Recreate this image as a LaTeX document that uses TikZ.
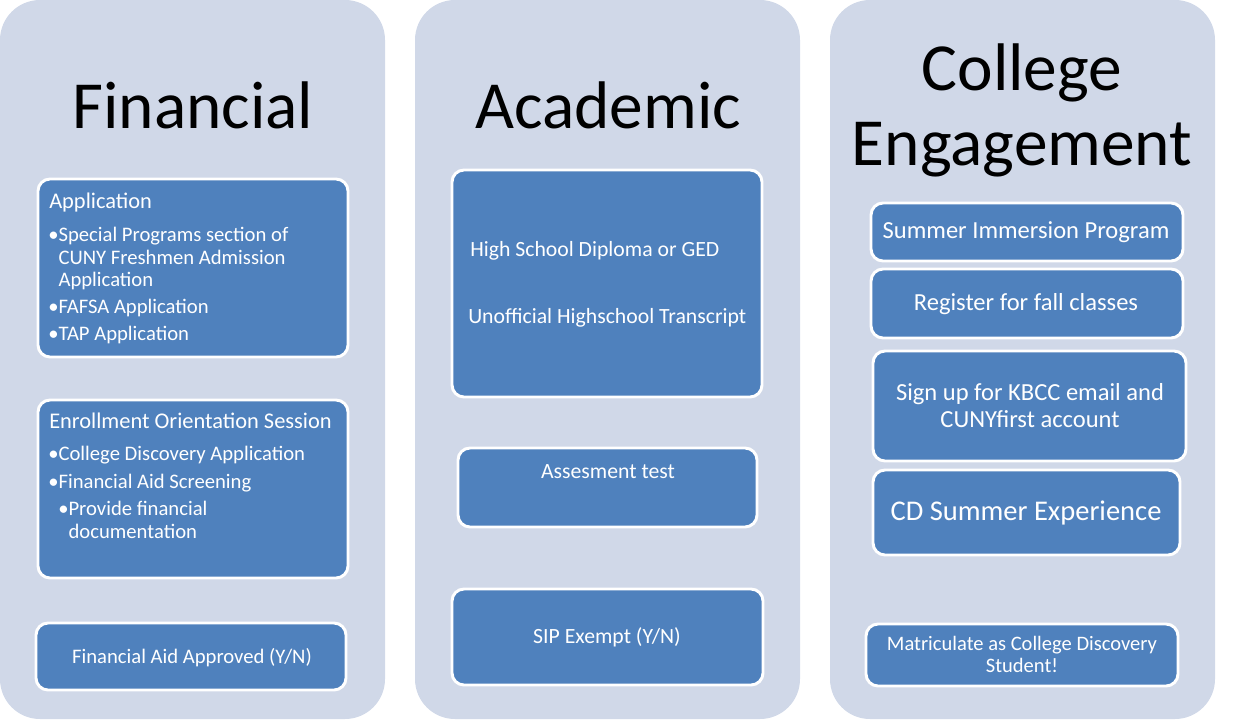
\documentclass[tikz,border=0pt]{standalone}
\usepackage{fontspec}
\setmainfont{Carlito}
\usetikzlibrary{fit}
\definecolor{colbg}{RGB}{208,216,232}
\definecolor{boxblue}{RGB}{79,129,189}

\begin{document}
\begin{tikzpicture}[x=0.75pt,y=-0.75pt,
  colbox/.style={fill=colbg,rounded corners=30pt,inner sep=0pt},
  bluebox/.style={fill=boxblue,draw=white,line width=2.2pt,rounded corners=9pt,inner sep=0pt},
  coltitle/.style={font=\fontsize{50.5}{56.25}\selectfont,anchor=base,align=center,inner sep=0pt},
  lbl/.style={text=white,inner sep=0pt,font=\fontsize{15.5}{16.9}\selectfont},
  head/.style={lbl,font=\fontsize{16.8}{19}\selectfont},
  mid/.style={lbl,font=\fontsize{16.3}{19}\selectfont},
  big/.style={lbl,font=\fontsize{18.4}{20.25}\selectfont}]
\useasboundingbox (0,0) rectangle (1235,721);
% column backgrounds
\node[colbox,fit={(0,0) (385,719)}] (fin) {};
\node[colbox,fit={(415,0) (800,719)}] (aca) {};
\node[colbox,fit={(830,0) (1215,719)}] (eng) {};
\node[coltitle] (finT) at (193,128) {Financial};
\node[coltitle] (acaT) at (608,128) {Academic};
\node[coltitle] (engT) at (1022,165) {College\\Engagement};

% Financial
\node[bluebox,fit={(38,179) (348,357)}] (app) {};
\node[head,anchor=base west] (appH) at (49,208) {Application};
\node[lbl,anchor=base west,align=left] (appL) at (48,340)
  {•Special Programs section of\\\phantom{•}CUNY Freshmen Admission\\\phantom{•}Application\\[3.1pt]
   •FAFSA Application\\[3.1pt]•TAP Application};
\node[bluebox,fit={(38,400) (348,578)}] (ori) {};
\node[head,anchor=base west] (oriH) at (49,428) {Enrollment Orientation Session};
\node[lbl,anchor=base west,align=left] (oriL) at (48,538)
  {•College Discovery Application\\[3.9pt]•Financial Aid Screening\\[3.4pt]
   \hspace*{7.5pt}•Provide financial\\\hspace*{7.5pt}\phantom{•}documentation};
\node[bluebox,fit={(36,623) (346,690)}] (aid) {};
\node[lbl,anchor=base] (aidT) at (192,663) {Financial Aid Approved (Y/N)};

% Academic
\node[bluebox,fit={(452,170) (762,397)}] (dip) {};
\node[mid,anchor=base west] (dipA) at (470,256) {High School Diploma or GED};
\node[mid,anchor=base west] (dipB) at (468,323) {Unofficial Highschool Transcript};
\node[bluebox,fit={(458,448) (757,527)}] (ass) {};
\node[mid,anchor=base] (assT) at (608,478) {Assesment test};
\node[bluebox,fit={(452,589) (763,685)}] (sip) {};
\node[mid,anchor=base] (sipT) at (607,643) {SIP Exempt (Y/N)};

% College Engagement
\node[bluebox,fit={(871,203) (1183,261)}] (imm) {};
\node[big,anchor=base] (immT) at (1026,238) {Summer Immersion Program};
\node[bluebox,fit={(871,269) (1183,338)}] (reg) {};
\node[big,anchor=base] (regT) at (1026,310) {Register for fall classes};
\node[bluebox,fit={(873,351) (1186,461)}] (sgn) {};
\node[big,anchor=base,align=center] (sgnT) at (1030,427) {Sign up for KBCC email and\\CUNYfirst account};
\node[bluebox,fit={(873,470) (1180,555)}] (cds) {};
\node[lbl,anchor=base,font=\fontsize{21.4}{25}\selectfont] (cdsT) at (1026,520) {CD Summer Experience};
\node[bluebox,fit={(866,624) (1178,686)}] (mat) {};
\node[lbl,anchor=base,align=center,font=\fontsize{15.4}{16.5}\selectfont] (matT) at (1022,672) {Matriculate as College Discovery\\Student!};
\end{tikzpicture}
\end{document}
